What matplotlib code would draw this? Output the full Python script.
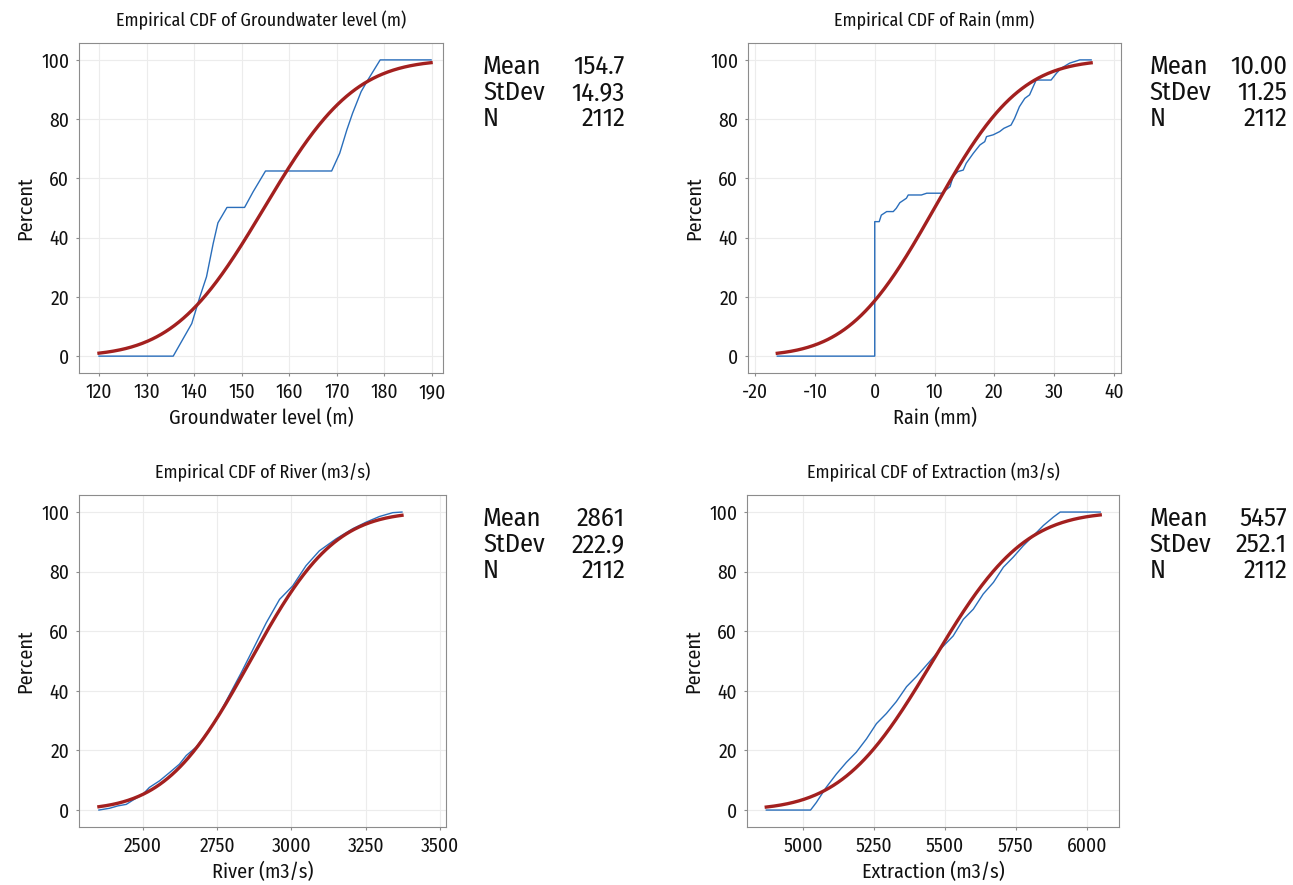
import numpy as np
import matplotlib
matplotlib.use("Agg")
import matplotlib.pyplot as plt
from math import erf, sqrt

plt.rcParams['font.family'] = ['Fira Sans Condensed', 'IBM Plex Sans Condensed', 'Open Sans', 'DejaVu Sans']
plt.rcParams['axes.unicode_minus'] = False

# empirical CDF breakpoints (value, percent)
gw_x = [120, 135.6, 139.5, 141.2, 142.6, 144, 145, 146.9, 150.6, 152.4, 155, 168.9,
        170.6, 172.1, 173.3, 175.1, 176.5, 179.1, 189.8]
gw_y = [0, 0, 11, 20, 26.8, 38, 45, 50.2, 50.2, 55.5, 62.5, 62.5,
        68.5, 76.4, 82, 89.3, 93.2, 100, 100]

rain_x = [-16.3, 0, 0, 0.75, 1.1, 2, 3.1, 3.6, 4.2, 5.3, 5.6, 7.8, 8.7, 11.2, 12.6, 13.1,
          13.9, 14.8, 15.3, 16.5, 17.6, 18.4, 18.7, 19.8, 20.9, 21.6, 22.8, 23.4, 24.2,
          25.1, 25.9, 27, 29.5, 30.4, 31.2, 32.6, 34.3, 36.2]
rain_y = [0, 0, 45.4, 45.4, 47.6, 48.8, 48.8, 49.9, 51.8, 53.3, 54.4, 54.4, 55, 55, 57.2, 60.6,
          62.3, 62.8, 65.1, 68.5, 71.3, 72.4, 74.1, 74.7, 75.8, 76.9, 78, 80.3, 84.2,
          87, 88.2, 93.2, 93.2, 95.5, 97.2, 98.9, 100, 100]

river_x = [2352, 2388, 2416, 2444, 2466, 2500, 2522, 2556, 2590, 2623, 2646, 2679, 2713,
           2746, 2791, 2830, 2870, 2915, 2960, 3004, 3049, 3094, 3150, 3206, 3251, 3296,
           3341, 3372]
river_y = [0, 0.6, 1.4, 1.9, 3.3, 5.3, 7.6, 9.8, 12.6, 15.4, 18.3, 21.1, 25.6,
           30.1, 38.6, 45.9, 53.8, 62.8, 70.7, 75.2, 82, 87, 91, 94.4, 96.6, 98.5,
           99.8, 100]

ext_x = [4871, 5027, 5047, 5082, 5118, 5153, 5188, 5224, 5259, 5294, 5329, 5365, 5400,
         5447, 5482, 5529, 5565, 5600, 5635, 5671, 5706, 5741, 5776, 5812, 5847, 5882,
         5906, 6047]
ext_y = [0, 0, 2.5, 7.6, 12.1, 16, 19.4, 23.9, 29, 32.4, 36.4, 41.4, 44.8,
         49.9, 53.8, 58.4, 64, 67.4, 72.5, 76.4, 81.5, 84.9, 88.7, 92.1, 95.5, 98.3,
         100, 100]

names = ["Groundwater level (m)", "Rain (mm)", "River (m3/s)", "Extraction (m3/s)"]
means = [154.7, 10.00, 2861, 5457]
stdevs = [14.93, 11.25, 222.9, 252.1]
mean_txt = ["154.7", "10.00", "2861", "5457"]
sd_txt = ["14.93", "11.25", "222.9", "252.1"]
n_obs = [2112, 2112, 2112, 2112]

xs = [gw_x, rain_x, river_x, ext_x]
ys = [gw_y, rain_y, river_y, ext_y]
xlims = [(115.8, 192.3), (-21.2, 41.2), (2285, 3520), (4803, 6113)]
xticks = [np.arange(120, 191, 10), np.arange(-20, 41, 10),
          np.arange(2500, 3501, 250), np.arange(5000, 6001, 250)]

# axes boxes in figure fractions
boxes = [[0.0611, 0.5785, 0.2815, 0.3729],
         [0.5785, 0.5785, 0.2885, 0.3729],
         [0.0611, 0.0655, 0.2838, 0.3751],
         [0.5777, 0.0655, 0.2877, 0.3751]]
stat_pos = [(0.3735, 0.4834, 0.925), (0.889, 0.9955, 0.925),
            (0.3735, 0.4834, 0.4144), (0.889, 0.9955, 0.4144)]

fig = plt.figure(figsize=(12.93, 8.85), dpi=100)

for i in range(4):
    ax = fig.add_axes(boxes[i])
    x = np.array(xs[i])
    ax.plot(x, ys[i], color='#2a6ebb', lw=1.0, zorder=3)
    # fitted normal curve over data range
    xx = np.linspace(x.min(), x.max(), 300)
    cdf = [50 * (1 + erf((v - means[i]) / (stdevs[i] * sqrt(2)))) for v in xx]
    ax.plot(xx, cdf, color='#a3201f', lw=2.4, zorder=4)

    ax.set_xlim(*xlims[i])
    ax.set_ylim(-5.7, 105.7)
    ax.set_xticks(xticks[i])
    ax.set_yticks(np.arange(0, 101, 20))
    ax.grid(True, color='#ececec', lw=0.8)
    ax.set_axisbelow(True)
    for s in ax.spines.values():
        s.set_color('#8c8c8c')
    ax.tick_params(labelsize=14, colors='#8c8c8c', labelcolor='#111111', length=2, pad=5)
    ax.set_xlabel(names[i], fontsize=14.5, color='#111111', labelpad=4)
    ax.set_ylabel("Percent", fontsize=14.5, color='#111111', labelpad=4)
    ax.set_title("Empirical CDF of " + names[i], fontsize=13, color='#111111', pad=12)

    lx, rx, ty = stat_pos[i]
    rows = [("Mean", mean_txt[i]), ("StDev", sd_txt[i]), ("N", str(n_obs[i]))]
    for k, (lab, val) in enumerate(rows):
        yk = ty - k * 0.0298
        fig.text(lx, yk, lab, fontsize=19, ha='left', va='center', color='#111111')
        fig.text(rx, yk, val, fontsize=19, ha='right', va='center', color='#111111')

fig.savefig("out.png", dpi=100, facecolor='white')
